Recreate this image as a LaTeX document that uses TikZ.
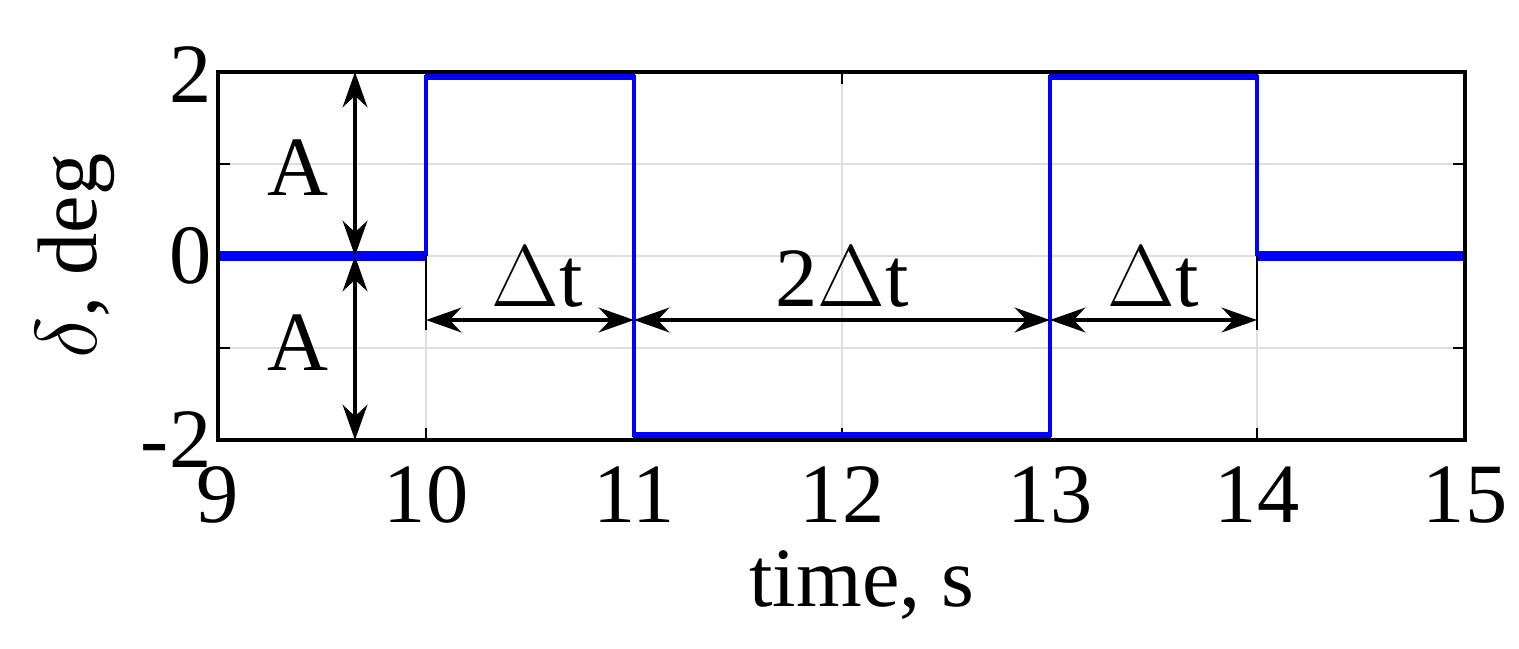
\documentclass[tikz,border=0pt]{standalone}
\usepackage{fontspec}
\setmainfont{Liberation Serif}
\usetikzlibrary{arrows.meta}
\begin{document}
\begin{tikzpicture}[x=0.01cm,y=-0.01cm,
  lbl/.style={font=\fontsize{24}{28}\selectfont,inner sep=0pt},
  grid/.style={draw=black!13,line width=0.8pt},
  sig/.style={draw=blue,line width=2.6pt},
  sigv/.style={draw=blue,line width=0.9pt},
  dim/.style={draw=black,line width=1.3pt,{Stealth[length=10pt,width=7pt]}-{Stealth[length=10pt,width=7pt]}}]
\useasboundingbox (0,0) rectangle (1519,648);
% grid
\foreach \x in {426,634,842,1050,1257} \draw[grid] (\x,72) -- (\x,440);
\foreach \y in {164,256,348} \draw[grid] (218,\y) -- (1465,\y);
% ticks
\foreach \x in {426,634,842,1050,1257} {\draw[line width=0.8pt] (\x,72) -- (\x,84); \draw[line width=0.8pt] (\x,440) -- (\x,428);}
\foreach \y in {164,256,348} {\draw[line width=0.8pt] (218,\y) -- (230,\y); \draw[line width=0.8pt] (1465,\y) -- (1453,\y);}
% signal
\draw[sig] (218,256) -- (426,256);
\draw[sig] (426,75) -- (634,75);
\draw[sig] (634,437) -- (1050,437);
\draw[sig] (1050,75) -- (1257,75);
\draw[sig] (1257,256) -- (1465,256);
\draw[sigv] (426,256) -- (426,75);
\draw[sigv] (634,75) -- (634,437);
\draw[sigv] (1050,437) -- (1050,75);
\draw[sigv] (1257,75) -- (1257,256);
% frame
\draw[line width=1.2pt] (218,72) rectangle (1465,440);
% dimension helper lines
\draw[line width=0.8pt] (426,256) -- (426,330);
\draw[line width=0.8pt] (1257,256) -- (1257,330);
% coordinates
\coordinate (a1) at (355,72); \coordinate (a0) at (355,256); \coordinate (a2) at (355,440);
\coordinate (t10) at (426,320); \coordinate (t11) at (634,320);
\coordinate (t13) at (1050,320); \coordinate (t14) at (1257,320);
\draw[dim] (a1) -- (a0);
\draw[dim] (a0) -- (a2);
\draw[dim] (t10) -- (t11);
\draw[dim] (t11) -- (t13);
\draw[dim] (t13) -- (t14);
% labels
\node[lbl] (la1) at (298,168) {A};
\node[lbl] (la2) at (298,343) {A};
\node[lbl] (ld1) at (537,277) {$\Delta$t};
\node[lbl] (ld2) at (842,277) {2$\Delta$t};
\node[lbl] (ld3) at (1153,277) {$\Delta$t};
\node[lbl,anchor=east] (y2) at (212,75) {2};
\node[lbl,anchor=east] (y0) at (212,256) {0};
\node[lbl,anchor=east] (ym2) at (212,440) {-2};
\foreach \x/\t in {218/9,426/10,634/11,842/12,1050/13,1257/14,1465/15}
  \node[lbl] (x\t) at (\x,495) {\t};
\node[lbl] (xl) at (862,585) {time, s};
\node[lbl,rotate=90] (yl) at (75,256) {$\delta$, deg};
\end{tikzpicture}
\end{document}
